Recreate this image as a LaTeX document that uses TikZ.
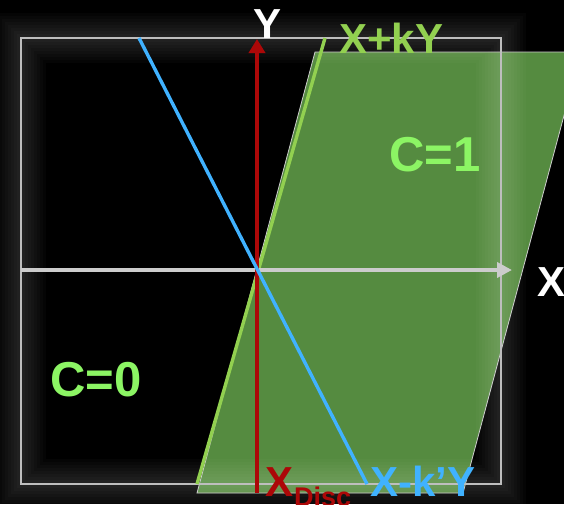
\documentclass[tikz,border=0pt]{standalone}
\usepackage{fontspec}
\setmainfont{Liberation Sans}
\usetikzlibrary{arrows.meta}
\definecolor{pgreen}{RGB}{85,139,64}
\definecolor{lgreen}{RGB}{146,208,80}
\definecolor{cgreen}{RGB}{140,245,100}
\definecolor{dred}{RGB}{172,8,8}
\definecolor{lblue}{RGB}{64,178,255}
\definecolor{axgray}{RGB}{204,204,204}
\definecolor{boxgray}{RGB}{190,190,190}
\begin{document}
\begin{tikzpicture}[x=1pt,y=-1pt,
  lbl/.style={inner sep=0pt, anchor=base west, font=\bfseries\fontsize{42}{42}\selectfont},
  clbl/.style={inner sep=0pt, anchor=base west, font=\bfseries\fontsize{49}{49}\selectfont, text=cgreen},
  sublbl/.style={inner sep=0pt, anchor=base west, font=\bfseries\fontsize{27}{27}\selectfont},
  glow/.style={draw=white, opacity=0.018},
  line/.style={line width=3.4pt}]
\fill[black] (0,0) rectangle (564,504);
\useasboundingbox (0,0) rectangle (564,504);
\clip (0,0) rectangle (564,504);
% coordinates
\coordinate (p1) at (315,52);
\coordinate (p2) at (581,52);
\coordinate (p3) at (463,493);
\coordinate (p4) at (197,493);
\coordinate (O) at (257,270);
\coordinate (gt) at (325,38);
\coordinate (gb) at (197,484);
\coordinate (bt) at (139,38);
\coordinate (bb) at (367,484);
\coordinate (xl) at (21,270);
\coordinate (xr) at (512,270);
\coordinate (rb) at (257,493);
\coordinate (rt) at (257,39);
% green region
\filldraw[fill=pgreen, draw=axgray, line width=0.8pt] (p1) -- (p2) -- (p3) -- (p4) -- cycle;
% glow around frame
\foreach \w in {50,44,38,32,26,20,14,8}
  \draw[glow, line width=\w pt] (21,38) rectangle (501,484);
\draw[boxgray, line width=1.2pt] (21,38) rectangle (501,484);
% lines
\draw[line, lgreen] (gt) -- (gb);
\draw[line width=4pt, axgray, -{Triangle[length=15pt,width=15pt]}] (xl) -- (xr);
\draw[line width=4pt, dred, -{Triangle[length=14pt,width=16pt]}] (rb) -- (rt);
\draw[line, lblue] (bt) -- (bb);
% labels
\node[lbl, text=white] (ylab) at (253,38) {Y};
\node[lbl, text=white] (xlab) at (537,296) {X};
\node[lbl, text=lgreen] (gk) at (339,53) {X+kY};
\node[lbl, text=lblue] (bk) at (370,496) {X-k’Y};
\node[lbl, text=dred] (xd) at (265,496) {X};
\node[sublbl, text=dred] (disc) at (294,506) {Disc};
\node[clbl] (c1) at (389,171) {C=1};
\node[clbl] (c0) at (50,396) {C=0};
\end{tikzpicture}
\end{document}
